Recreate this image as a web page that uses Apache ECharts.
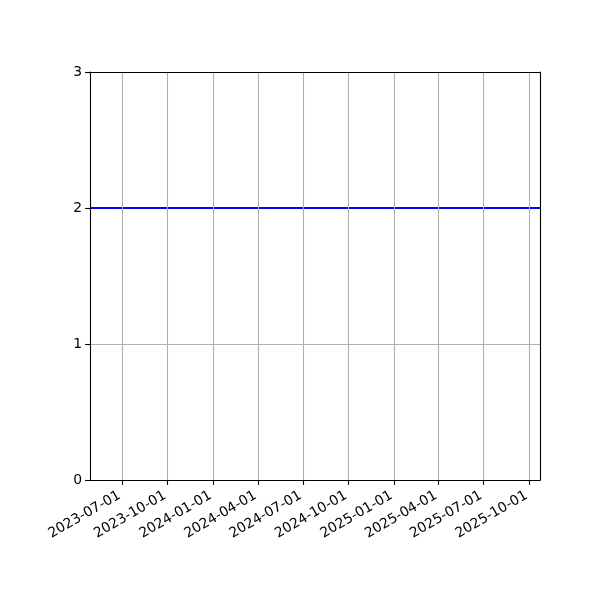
<!DOCTYPE html>
<html>
<head>
<meta charset="utf-8">
<script src="https://cdn.jsdelivr.net/npm/echarts@6/dist/echarts.min.js"></script>
<style>
html,body{margin:0;padding:0;background:#fff;}
#chart{width:600px;height:600px;}
</style>
</head>
<body>
<div id="chart"></div>
<script>
// Data
const xMin = '2023-04-27';
const xMax = '2025-10-23';
const dates = ['2023-04-27', '2025-10-23'];
const values = [2, 2];
const xTickDates = ['2023-07-01','2023-10-01','2024-01-01','2024-04-01','2024-07-01','2024-10-01','2025-01-01','2025-04-01','2025-07-01','2025-10-01'];
const yTicks = [0, 1, 2, 3];

const ts = d => Date.parse(d + 'T00:00:00Z');
const fmt = v => {
  const d = new Date(v);
  const p = n => String(n).padStart(2, '0');
  return d.getUTCFullYear() + '-' + p(d.getUTCMonth() + 1) + '-' + p(d.getUTCDate());
};
const tickTs = xTickDates.map(ts);
const FONT = 'DejaVu Sans';
const FS = 13.9;
const spine = {show: true, onZero: false, lineStyle: {color: '#000', width: 1.1}};

const chart = echarts.init(document.getElementById('chart'), null, {renderer: 'canvas'});
chart.setOption({
  animation: false,
  backgroundColor: '#ffffff',
  grid: {left: 90, right: 60, top: 72, bottom: 120, containLabel: false},
  xAxis: [{
    type: 'value', scale: true, z: 10,
    min: ts(xMin), max: ts(xMax),
    axisLine: spine,
    axisTick: {show: true, length: 4.9, lineStyle: {color: '#000', width: 1.1}, customValues: tickTs},
    axisLabel: {
      show: true, customValues: tickTs, rotate: 30, margin: 13,
      padding: [0, 3, 0, 0],
      fontFamily: FONT, fontSize: FS, color: '#000',
      formatter: v => fmt(v), hideOverlap: false
    },
    splitLine: {show: false}
  }, {
    type: 'value', scale: true, position: 'top', z: 10,
    min: ts(xMin), max: ts(xMax),
    axisLine: spine,
    axisTick: {show: false}, axisLabel: {show: false}, splitLine: {show: false}
  }],
  yAxis: [{
    type: 'value', min: yTicks[0], max: yTicks[yTicks.length - 1], interval: 1,
    axisLine: {show: false},
    axisTick: {show: true, length: 4.9, lineStyle: {color: '#000', width: 1.1}},
    axisLabel: {fontFamily: FONT, fontSize: FS, color: '#000', margin: 8},
    splitLine: {show: true, lineStyle: {color: '#b0b0b0', width: 1.1}}
  }, {
    type: 'value', position: 'right', min: yTicks[0], max: yTicks[yTicks.length - 1], interval: 1, z: 10,
    axisLine: spine,
    axisTick: {show: false}, axisLabel: {show: false}, splitLine: {show: false}
  }, {
    type: 'value', position: 'left', min: yTicks[0], max: yTicks[yTicks.length - 1], interval: 1, z: 10,
    axisLine: spine,
    axisTick: {show: false}, axisLabel: {show: false}, splitLine: {show: false}
  }],
  series: [{
    name: 'grid', type: 'line', data: [], z: 1, silent: true,
    markLine: {
      silent: true, symbol: ['none', 'none'], label: {show: false},
      lineStyle: {color: '#b0b0b0', width: 1.1, type: 'solid'},
      emphasis: {disabled: true},
      data: tickTs.map(t => ({xAxis: t}))
    }
  }, {
    name: 'value', type: 'line', z: 3,
    data: dates.map((d, i) => [ts(d), values[i]]),
    showSymbol: false, symbol: 'none',
    lineStyle: {color: '#0000ff', width: 2.1},
    itemStyle: {color: '#0000ff'},
    clip: true
  }]
});
</script>
</body>
</html>
